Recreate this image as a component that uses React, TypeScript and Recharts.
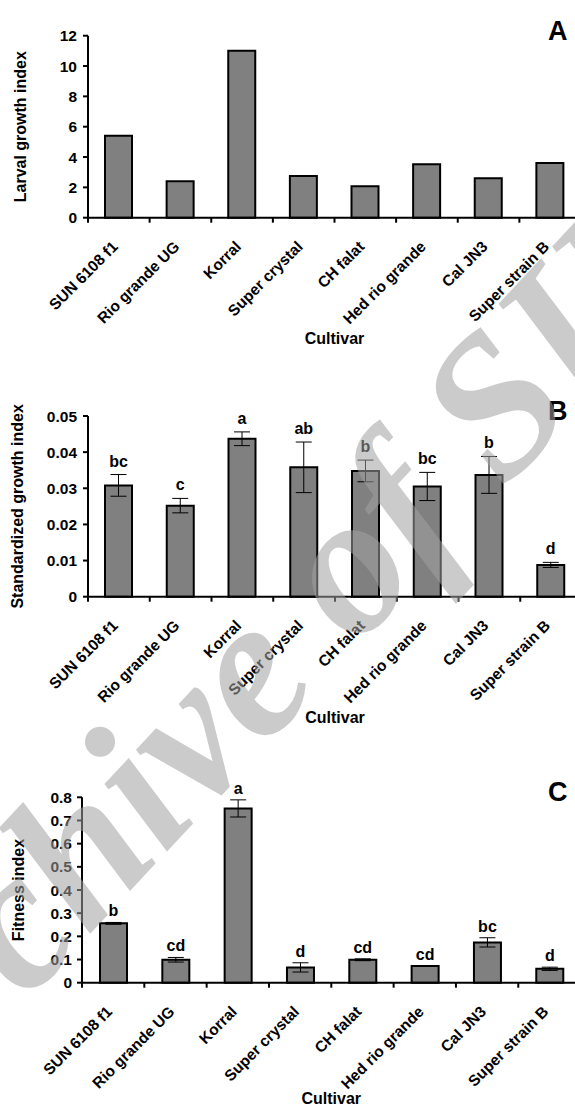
import React from 'react';
import { BarChart, Bar, XAxis, YAxis, ErrorBar, LabelList, Label } from 'recharts';

// cultivars and values
const cultivars = ['SUN 6108 f1', 'Rio grande UG', 'Korral', 'Super crystal', 'CH falat', 'Hed rio grande', 'Cal JN3', 'Super strain B'];

const larvalGrowth = [5.4, 2.4, 11.0, 2.75, 2.07, 3.52, 2.6, 3.6];
const larvalTicks = [0, 2, 4, 6, 8, 10, 12];

const stdGrowth = [0.0308, 0.0252, 0.0437, 0.0358, 0.0348, 0.0305, 0.0337, 0.0088];
const stdGrowthErr = [0.003, 0.002, 0.0019, 0.007, 0.003, 0.0039, 0.0051, 0.0007];
const stdGrowthLetters = ['bc', 'c', 'a', 'ab', 'b', 'bc', 'b', 'd'];
const stdTicks = [0, 0.01, 0.02, 0.03, 0.04, 0.05];

const fitness = [0.256, 0.099, 0.752, 0.066, 0.099, 0.072, 0.174, 0.06];
const fitnessErr = [0.004, 0.01, 0.037, 0.02, 0.004, 0.001, 0.02, 0.007];
const fitnessLetters = ['b', 'cd', 'a', 'd', 'cd', 'cd', 'bc', 'd'];
const fitnessTicks = [0, 0.1, 0.2, 0.3, 0.4, 0.5, 0.6, 0.7, 0.8];

const FONT = 'Arial, "Liberation Sans", Helvetica, sans-serif';
const CHART_W = 600;

type PanelProps = {
  top: number;
  height: number;
  plotTop: number;
  plotBottom: number;
  plotLeft: number;
  plotRight: number;
  values: number[];
  errors?: number[];
  letters?: string[];
  ticks: number[];
  yTitle: string;
  yTitleX: number;
  yTickMargin: number;
  xTitleY: number;
  panel: string;
  letterGap?: number;
};

function Panel(p: PanelProps) {
  const data = cultivars.map((name, i) => ({
    name,
    value: p.values[i],
    err: p.errors ? p.errors[i] : 0,
    letter: p.letters ? p.letters[i] : '',
  }));
  const plotH = p.plotBottom - p.plotTop;
  const xAxisH = p.height - p.plotTop - plotH;
  const band = (p.plotRight - p.plotLeft) / cultivars.length;
  const yMax = p.ticks[p.ticks.length - 1];

  // Excel style: tick marks between categories, rotated labels under the centre
  const categoryTick = (props: any) => {
    const { x, y, payload, index } = props;
    const left = x - band / 2;
    return (
      <g>
        <line x1={left} y1={y} x2={left} y2={y + 5} stroke="#000" strokeWidth={2} />
        {index === cultivars.length - 1 && (
          <line x1={x + band / 2} y1={y} x2={x + band / 2} y2={y + 5} stroke="#000" strokeWidth={2} />
        )}
        <text
          transform={`translate(${x},${y + 30}) rotate(-45)`}
          textAnchor="end"
          fontFamily={FONT}
          fontWeight="bold"
          fontSize={15.5}
          fill="#000"
        >
          {payload.value}
        </text>
      </g>
    );
  };

  const letterLabel = (props: any) => {
    const vb = props.viewBox ?? props;
    const { x, y, width, height } = vb;
    const i = props.index;
    const v = p.values[i];
    const e = p.errors ? p.errors[i] : 0;
    const perUnit = height / v;
    const ty = y - e * perUnit - (p.letterGap ?? 7);
    return (
      <text x={x + width / 2} y={ty} textAnchor="middle" fontFamily={FONT} fontWeight="bold" fontSize={16} fill="#000">
        {props.value}
      </text>
    );
  };

  return (
    <div style={{ position: 'absolute', left: 0, top: p.top }}>
      <BarChart
        width={CHART_W}
        height={p.height}
        data={data}
        margin={{ top: p.plotTop, right: CHART_W - p.plotRight, left: 0, bottom: 0 }}
        barSize={27}
      >
        <XAxis
          dataKey="name"
          interval={0}
          height={xAxisH}
          tickLine={false}
          tickSize={0}
          tickMargin={0}
          axisLine={{ stroke: '#000', strokeWidth: 2 }}
          tick={categoryTick}
        >
          <Label
            content={() => (
              <text
                x={(p.plotLeft + p.plotRight) / 2}
                y={p.xTitleY}
                textAnchor="middle"
                fontFamily={FONT}
                fontWeight="bold"
                fontSize={16}
                fill="#000"
              >
                Cultivar
              </text>
            )}
          />
        </XAxis>
        <YAxis
          width={p.plotLeft}
          domain={[0, yMax]}
          ticks={p.ticks}
          interval={0}
          tickSize={5}
          tickMargin={p.yTickMargin}
          tickLine={{ stroke: '#000', strokeWidth: 2 }}
          axisLine={{ stroke: '#000', strokeWidth: 2 }}
          tick={{ fontFamily: FONT, fontWeight: 'bold', fontSize: 15.5, fill: '#000' }}
          tickFormatter={(v: number) => String(v)}
        >
          <Label
            content={() => {
              const cy = p.plotTop + plotH / 2;
              return (
                <text
                  x={p.yTitleX}
                  y={cy}
                  transform={`rotate(-90 ${p.yTitleX} ${cy})`}
                  textAnchor="middle"
                  fontFamily={FONT}
                  fontWeight="bold"
                  fontSize={16}
                  fill="#000"
                >
                  {p.yTitle}
                </text>
              );
            }}
          />
        </YAxis>
        <Bar dataKey="value" fill="#808080" stroke="#000" strokeWidth={2} isAnimationActive={false}>
          {p.errors && (
            <ErrorBar dataKey="err" width={8} stroke="#000" strokeWidth={1} direction="y" isAnimationActive={false} />
          )}
          {p.letters && <LabelList dataKey="letter" content={letterLabel} />}
        </Bar>
      </BarChart>
      <svg style={{ position: 'absolute', left: 0, top: 0 }} width={575} height={60 + p.plotTop}>
        <text x={548} y={p.plotTop + 4} fontFamily={FONT} fontWeight="bold" fontSize={27} fill="#000">
          {p.panel}
        </text>
      </svg>
    </div>
  );
}

export default function App() {
  return (
    <div style={{ position: 'absolute', left: 0, top: 0, width: 575, height: 1110, overflow: 'hidden', background: '#fff' }}>
      <Panel
        top={0}
        height={350}
        plotTop={35.7}
        plotBottom={217.7}
        plotLeft={88}
        plotRight={581}
        values={larvalGrowth}
        ticks={larvalTicks}
        yTitle="Larval growth index"
        yTitleX={26.5}
        yTickMargin={6}
        xTitleY={344}
        panel="A"
      />
      <Panel
        top={380}
        height={360}
        plotTop={36}
        plotBottom={216.7}
        plotLeft={88}
        plotRight={582}
        values={stdGrowth}
        errors={stdGrowthErr}
        letters={stdGrowthLetters}
        ticks={stdTicks}
        yTitle="Standardized growth index"
        yTitleX={23.5}
        yTickMargin={6}
        xTitleY={343}
        panel="B"
        letterGap={8}
      />
      <Panel
        top={760}
        height={350}
        plotTop={37.3}
        plotBottom={222.7}
        plotLeft={82}
        plotRight={580.6}
        values={fitness}
        errors={fitnessErr}
        letters={fitnessLetters}
        ticks={fitnessTicks}
        yTitle="Fitness index"
        yTitleX={23.5}
        yTickMargin={5}
        xTitleY={344}
        panel="C"
        letterGap={6}
      />
      {/* repository watermark laid over the figure */}
      <svg style={{ position: 'absolute', left: 0, top: 0, pointerEvents: 'none' }} width={575} height={1110}>
        <text
          x={-117}
          y={1156}
          transform="rotate(-47 -117 1156)"
          fontFamily='"Liberation Serif", "DejaVu Serif", serif'
          fontStyle="italic"
          fontWeight="bold"
          fontSize={200}
          fill="#a0a0a0"
          fillOpacity={0.55}
        >
          Archive of SID
        </text>
      </svg>
    </div>
  );
}
